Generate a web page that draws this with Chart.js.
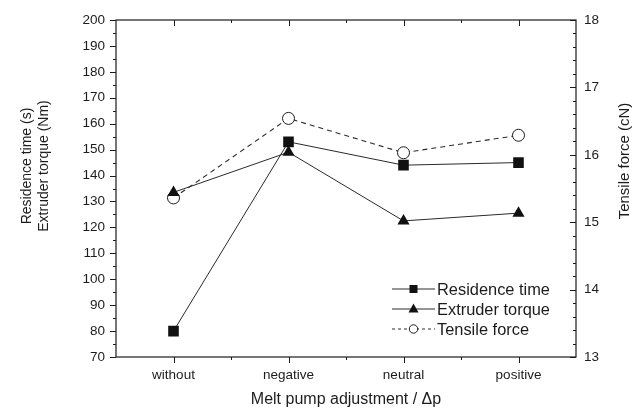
<!DOCTYPE html>
<html><head><meta charset="utf-8">
<script src="https://cdn.jsdelivr.net/npm/chart.js@4.4.1/dist/chart.umd.min.js"></script>
<style>html,body{margin:0;padding:0;background:#fff}#wrap{width:636px;height:411px}</style>
</head><body><div id="wrap"><canvas id="c" width="636" height="411"></canvas></div>
<script>
// ---- data ----
const categories = ['without', 'negative', 'neutral', 'positive'];
const residenceTime = [80, 153, 144, 145];
const extruderTorque = [133.5, 149, 122.5, 125.5];
const tensileForce = [15.36, 16.54, 16.03, 16.29];
const seriesNames = ['Residence time', 'Extruder torque', 'Tensile force'];
const leftRange = [70, 200];
const leftMajorStep = 10;
const leftMinorStep = 5;
const rightRange = [13, 18];
const rightMajorStep = 1;
const rightMinorStep = 0.2;
const xTitle = 'Melt pump adjustment / \u0394p';
const leftTitle = ['Residence time (s)', 'Extruder torque (Nm)'];
const rightTitle = 'Tensile force (cN)';

const FONT = '"Liberation Sans", Arial, Helvetica, sans-serif';
const INK = '#1c1c1c';
const LINE = '#2a2a2a';

const framePlugin = {
  id: 'frame',
  beforeDatasetsDraw(chart) {
    const {ctx, chartArea: a, scales} = chart;
    const x = scales.x, y = scales.y, y1 = scales.y1;
    ctx.save();
    ctx.strokeStyle = INK;
    ctx.lineWidth = 1.2;
    ctx.strokeRect(a.left, a.top, a.right - a.left, a.bottom - a.top);
    ctx.lineWidth = 1;
    ctx.beginPath();
    // left axis ticks (outward)
    for (let v = leftRange[0]; v <= leftRange[1] + 1e-9; v += leftMinorStep) {
      const p = Math.round(y.getPixelForValue(v)) + 0.5;
      const major = Math.abs(v / leftMajorStep - Math.round(v / leftMajorStep)) < 1e-6;
      ctx.moveTo(a.left, p); ctx.lineTo(a.left - (major ? 6 : 3), p);
    }
    // right axis ticks (inward)
    for (let i = 0; i <= Math.round((rightRange[1] - rightRange[0]) / rightMinorStep); i++) {
      const v = rightRange[0] + i * rightMinorStep;
      const p = Math.round(y1.getPixelForValue(v)) + 0.5;
      const major = i % Math.round(rightMajorStep / rightMinorStep) === 0;
      ctx.moveTo(a.right, p); ctx.lineTo(a.right - (major ? 6 : 3), p);
    }
    // x ticks: bottom outward, top inward
    for (let i = 0; i < categories.length; i++) {
      const p = Math.round(x.getPixelForValue(i)) + 0.5;
      ctx.moveTo(p, a.bottom); ctx.lineTo(p, a.bottom + 6);
      ctx.moveTo(p, a.top); ctx.lineTo(p, a.top + 6);
      if (i < categories.length - 1) {
        const m = Math.round((x.getPixelForValue(i) + x.getPixelForValue(i + 1)) / 2) + 0.5;
        ctx.moveTo(m, a.bottom); ctx.lineTo(m, a.bottom + 3);
        ctx.moveTo(m, a.top); ctx.lineTo(m, a.top + 3);
      }
    }
    ctx.stroke();
    ctx.restore();
  },
  afterDraw(chart) {
    const {ctx, chartArea: a} = chart;
    ctx.save();
    ctx.fillStyle = INK;
    ctx.textAlign = 'center';
    ctx.textBaseline = 'middle';
    // left title (two lines, rotated)
    ctx.font = '14px ' + FONT;
    leftTitle.forEach((t, i) => {
      ctx.save();
      ctx.translate(27 + i * 17, 166);
      ctx.rotate(-Math.PI / 2);
      ctx.fillText(t, 0, 0);
      ctx.restore();
    });
    // right title
    ctx.font = '15px ' + FONT;
    ctx.save();
    ctx.translate(625, 161);
    ctx.rotate(-Math.PI / 2);
    ctx.fillText(rightTitle, 0, 0);
    ctx.restore();

    // legend
    const rows = [a.bottom - 68, a.bottom - 48, a.bottom - 28];
    const x0 = a.right - 184, x1 = a.right - 141, xm = (x0 + x1) / 2;
    ctx.font = '16.4px ' + FONT;
    ctx.textAlign = 'left';
    rows.forEach((ry, i) => {
      ctx.strokeStyle = LINE;
      ctx.lineWidth = 1;
      ctx.setLineDash(i === 2 ? [3, 3] : []);
      ctx.beginPath();
      ctx.moveTo(x0, ry); ctx.lineTo(x1, ry);
      ctx.stroke();
      ctx.setLineDash([]);
      ctx.fillStyle = '#111';
      if (i === 0) {
        ctx.fillRect(xm - 4, ry - 4, 8, 8);
      } else if (i === 1) {
        ctx.beginPath();
        ctx.moveTo(xm, ry - 5.5); ctx.lineTo(xm + 5, ry + 3.5); ctx.lineTo(xm - 5, ry + 3.5);
        ctx.closePath(); ctx.fill();
      } else {
        ctx.fillStyle = '#fff';
        ctx.beginPath(); ctx.arc(xm, ry, 4.2, 0, Math.PI * 2); ctx.fill();
        ctx.strokeStyle = INK; ctx.stroke();
      }
      ctx.fillStyle = INK;
      ctx.fillText(seriesNames[i], x1 + 2, ry + 1);
    });
    ctx.restore();
  }
};

const tickFont = {family: FONT, size: 13.5};

new Chart(document.getElementById('c'), {
  type: 'line',
  data: {
    labels: categories,
    datasets: [
      {
        label: seriesNames[0], data: residenceTime, yAxisID: 'y',
        borderColor: LINE, borderWidth: 1, backgroundColor: '#111',
        pointStyle: 'rect', pointRadius: 7.5, pointBorderWidth: 0,
        pointBackgroundColor: '#111', tension: 0, order: 2
      },
      {
        label: seriesNames[1], data: extruderTorque, yAxisID: 'y',
        borderColor: LINE, borderWidth: 1, backgroundColor: '#111',
        pointStyle: 'triangle', pointRadius: 7, pointBorderWidth: 0,
        pointBackgroundColor: '#111', tension: 0, order: 1
      },
      {
        label: seriesNames[2], data: tensileForce, yAxisID: 'y1',
        borderColor: LINE, borderWidth: 1.1, borderDash: [5, 4],
        pointStyle: 'circle', pointRadius: 6, pointBorderWidth: 1,
        pointBorderColor: INK, pointBackgroundColor: '#fff', tension: 0, order: 3
      }
    ]
  },
  options: {
    responsive: false,
    devicePixelRatio: 1,
    animation: false,
    layout: {padding: {top: 20, left: 0, right: 0, bottom: 0}},
    plugins: {legend: {display: false}, tooltip: {enabled: false}},
    scales: {
      x: {
        type: 'category', offset: true,
        grid: {display: false, drawTicks: false},
        border: {display: false},
        ticks: {color: INK, font: tickFont, padding: 10, maxRotation: 0, autoSkip: false},
        title: {display: true, text: xTitle, color: INK, font: {family: FONT, size: 16}, padding: {top: 0, bottom: 2}},
        afterFit(s) { s.height = 54; }
      },
      y: {
        position: 'left', min: leftRange[0], max: leftRange[1],
        grid: {display: false, drawTicks: false},
        border: {display: false},
        ticks: {stepSize: leftMajorStep, color: INK, font: tickFont, padding: 11},
        afterFit(s) { s.width = 116; }
      },
      y1: {
        position: 'right', min: rightRange[0], max: rightRange[1],
        grid: {display: false, drawTicks: false},
        border: {display: false},
        ticks: {stepSize: rightMajorStep, color: INK, font: tickFont, padding: 8},
        afterFit(s) { s.width = 60; }
      }
    }
  },
  plugins: [framePlugin]
});
</script>
</body></html>
